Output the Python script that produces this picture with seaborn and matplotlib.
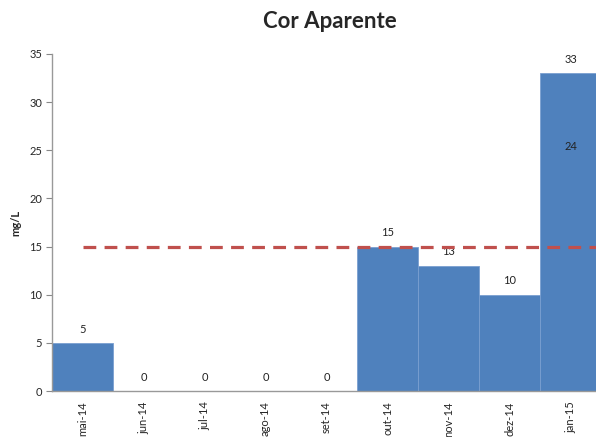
import matplotlib
matplotlib.use("Agg")
import matplotlib.pyplot as plt
import seaborn as sns
import pandas as pd
import numpy as np

categories = ["mai-14", "jun-14", "jul-14", "ago-14", "set-14", "out-14", "nov-14", "dez-14", "jan-15"]
values = [5, 0, 0, 0, 0, 15, 13, 10, 33]
limit = 15
extra_label_cat = "jan-15"
extra_label_value = 24

sns.set_theme(style="white")
plt.rcParams["font.family"] = ["Lato", "DejaVu Sans"]

df = pd.DataFrame({"mes": categories, "valor": values})

fig = plt.figure(figsize=(5.96, 4.37), dpi=100)
ax = fig.add_axes([52/596, 46/437, 549/596, 337/437])

sns.barplot(data=df, x="mes", y="valor", color="#4F81BD", width=1.0,
            edgecolor="#7A9FD0", linewidth=0.6, saturation=1, ax=ax)

n = len(categories)
ax.hlines(limit, 0, n - 0.5, colors="#C0504D", linestyles=(0, (4, 2.6)), linewidth=2.3, zorder=5)

for i, v in enumerate(values):
    ax.annotate(str(v), (i, v), xytext=(0, 6), textcoords="offset points",
                ha="center", va="bottom", fontsize=8, color="#222222")
j = categories.index(extra_label_cat)
ax.annotate(str(extra_label_value), (j, extra_label_value), xytext=(0, 6), textcoords="offset points",
            ha="center", va="bottom", fontsize=8, color="#222222")

ax.set_xlim(-0.5, n - 0.5)
ax.set_ylim(0, 35)
ax.set_yticks(range(0, 36, 5))
ax.set_xlabel("")
ax.set_ylabel("mg/L", fontsize=8, fontweight="bold", labelpad=6)
ax.tick_params(axis="y", labelsize=8, left=True, length=4, width=0.8, color="#888888", pad=3)
ax.tick_params(axis="x", labelsize=8, bottom=False, rotation=90, pad=1.5)
for lab in ax.get_xticklabels():
    lab.set_verticalalignment("top")

for s in ["top", "right"]:
    ax.spines[s].set_visible(False)
for s in ["left", "bottom"]:
    ax.spines[s].set_color("#999999")
    ax.spines[s].set_linewidth(1.0)

fig.text(330/596, 1 - 22/437, "Cor Aparente", ha="center", va="center", fontsize=16, fontweight="bold")

fig.savefig("out.png", dpi=100)
